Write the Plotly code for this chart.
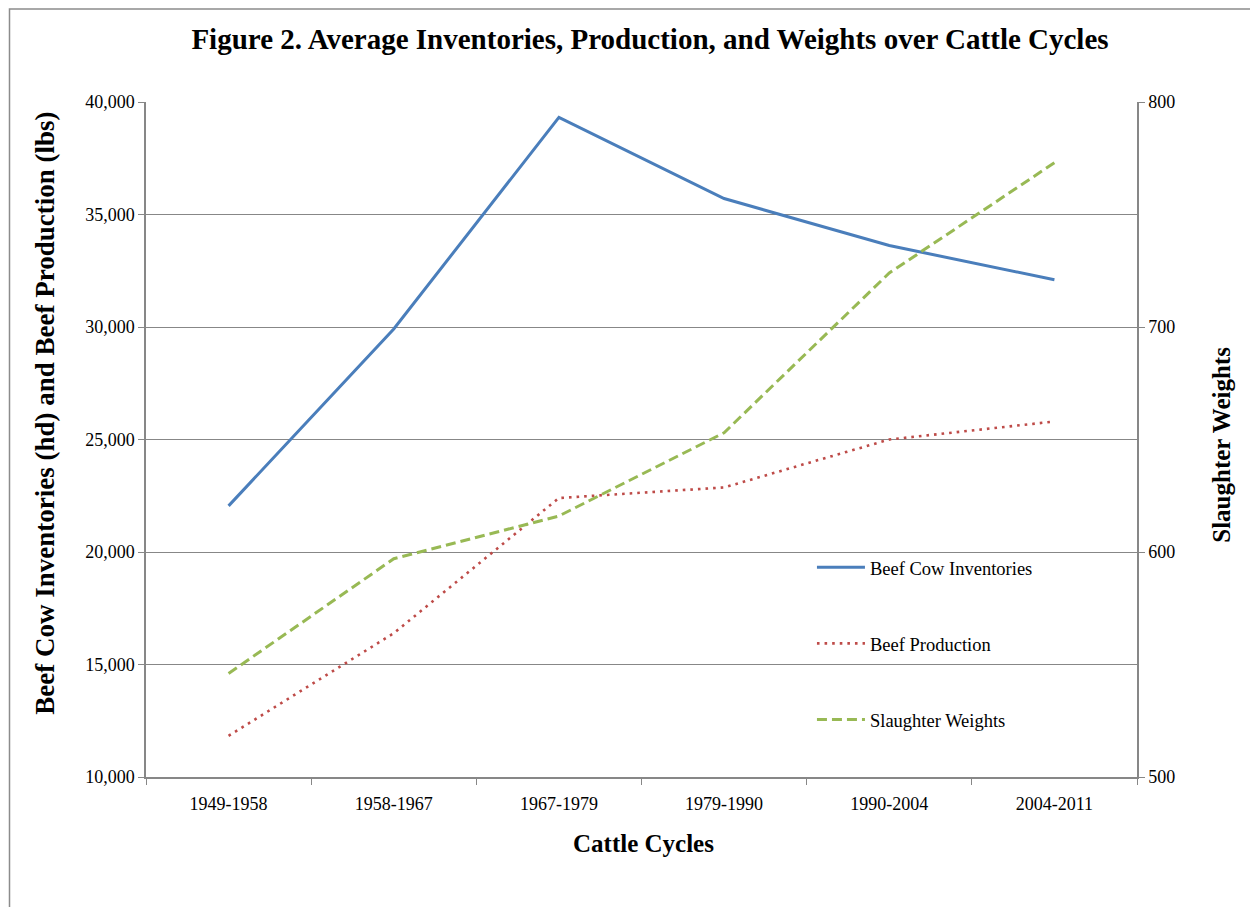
import plotly.graph_objects as go

# Cattle cycle periods (x categories)
cycles = ["1949-1958", "1958-1967", "1967-1979", "1979-1990", "1990-2004", "2004-2011"]

# Average values per cycle
beef_cow_inventories = [22050, 29910, 39320, 35710, 33620, 32100]
beef_production = [11830, 16390, 22400, 22870, 25000, 25800]
slaughter_weights = [546, 597, 616, 653, 724, 773]

# Axis tick values
left_ticks = [10000, 15000, 20000, 25000, 30000, 35000, 40000]
right_ticks = [500, 600, 700, 800]

SERIF = "Liberation Serif, Times New Roman, serif"
GRID = "#878787"

# Plot area in pixels (used to place the frame and the axis titles)
PX_L, PX_R, PX_T, PX_B = 146, 1137, 102.5, 777
PW, PH = PX_R - PX_L, PX_B - PX_T


def px_x(px):
    return (px - PX_L) / PW


def px_y(py):
    return (PX_B - py) / PH


fig = go.Figure()

fig.add_trace(go.Scatter(
    x=cycles, y=beef_cow_inventories, name="Beef Cow Inventories",
    mode="lines", line=dict(color="#4A7EBB", width=3),
    legendgroup="a", yaxis="y",
))
fig.add_trace(go.Scatter(
    x=cycles, y=beef_production, name="Beef Production",
    mode="lines", line=dict(color="#BE4B48", width=2.6, dash="2.6px,5px"),
    legendgroup="b", yaxis="y",
))
fig.add_trace(go.Scatter(
    x=cycles, y=slaughter_weights, name="Slaughter Weights",
    mode="lines", line=dict(color="#98B954", width=3, dash="10px,5px"),
    legendgroup="c", yaxis="y2",
))

fig.update_layout(
    width=1250, height=907,
    margin=dict(l=146, r=113, t=102, b=130),
    paper_bgcolor="white", plot_bgcolor="white",
    font=dict(family=SERIF, color="black", size=18),
    title=dict(
        text="<b>Figure 2. Average Inventories, Production, and Weights over Cattle Cycles</b>",
        font=dict(family=SERIF, size=29, color="black"),
        x=0.52, xref="container", xanchor="center",
        y=0.957, yref="container", yanchor="middle",
    ),
    xaxis=dict(
        type="category", categoryorder="array", categoryarray=cycles,
        range=[-0.5, 5.5], tickson="boundaries",
        ticks="outside", ticklen=6, tickcolor=GRID,
        ticklabelstandoff=10,
        showline=True, linecolor=GRID, linewidth=1.5,
        showgrid=False, zeroline=False,
        tickfont=dict(family=SERIF, size=18),
    ),
    yaxis=dict(
        range=[10000, 40000], tickvals=left_ticks, tickformat=",",
        ticks="outside", ticklen=6, tickcolor=GRID,
        showline=True, linecolor=GRID, linewidth=1.5,
        showgrid=True, gridcolor=GRID, gridwidth=1.2,
        zeroline=False,
        tickfont=dict(family=SERIF, size=18),
    ),
    yaxis2=dict(
        overlaying="y", side="right",
        range=[500, 800], tickvals=right_ticks,
        ticks="outside", ticklen=6, tickcolor=GRID,
        showline=True, linecolor=GRID, linewidth=1.5,
        showgrid=False, zeroline=False,
        tickfont=dict(family=SERIF, size=18),
    ),
    legend=dict(
        x=0.672, y=0.338, xanchor="left", yanchor="top",
        bgcolor="rgba(0,0,0,0)",
        font=dict(family=SERIF, size=18.5),
        traceorder="grouped", tracegroupgap=49,
        itemwidth=48,
    ),
    showlegend=True,
)

# Axis titles
fig.add_annotation(
    text="<b>Beef Cow Inventories (hd) and Beef Production (lbs)</b>",
    xref="paper", yref="paper", x=px_x(45), y=px_y(414),
    xanchor="center", yanchor="middle", textangle=-90, showarrow=False,
    font=dict(family=SERIF, size=27),
)
fig.add_annotation(
    text="<b>Slaughter Weights</b>",
    xref="paper", yref="paper", x=px_x(1222), y=px_y(445),
    xanchor="center", yanchor="middle", textangle=-90, showarrow=False,
    font=dict(family=SERIF, size=25),
)
fig.add_annotation(
    text="<b>Cattle Cycles</b>",
    xref="paper", yref="paper", x=px_x(643), y=px_y(843),
    xanchor="center", yanchor="middle", showarrow=False,
    font=dict(family=SERIF, size=25),
)

# Outer chart frame
fig.add_shape(
    type="rect", xref="paper", yref="paper",
    x0=px_x(9.5), x1=px_x(1270),
    y0=px_y(930), y1=px_y(9.5),
    line=dict(color="#8C8C8C", width=1.5), fillcolor="rgba(0,0,0,0)",
    layer="below",
)

fig.write_html("out.html")
